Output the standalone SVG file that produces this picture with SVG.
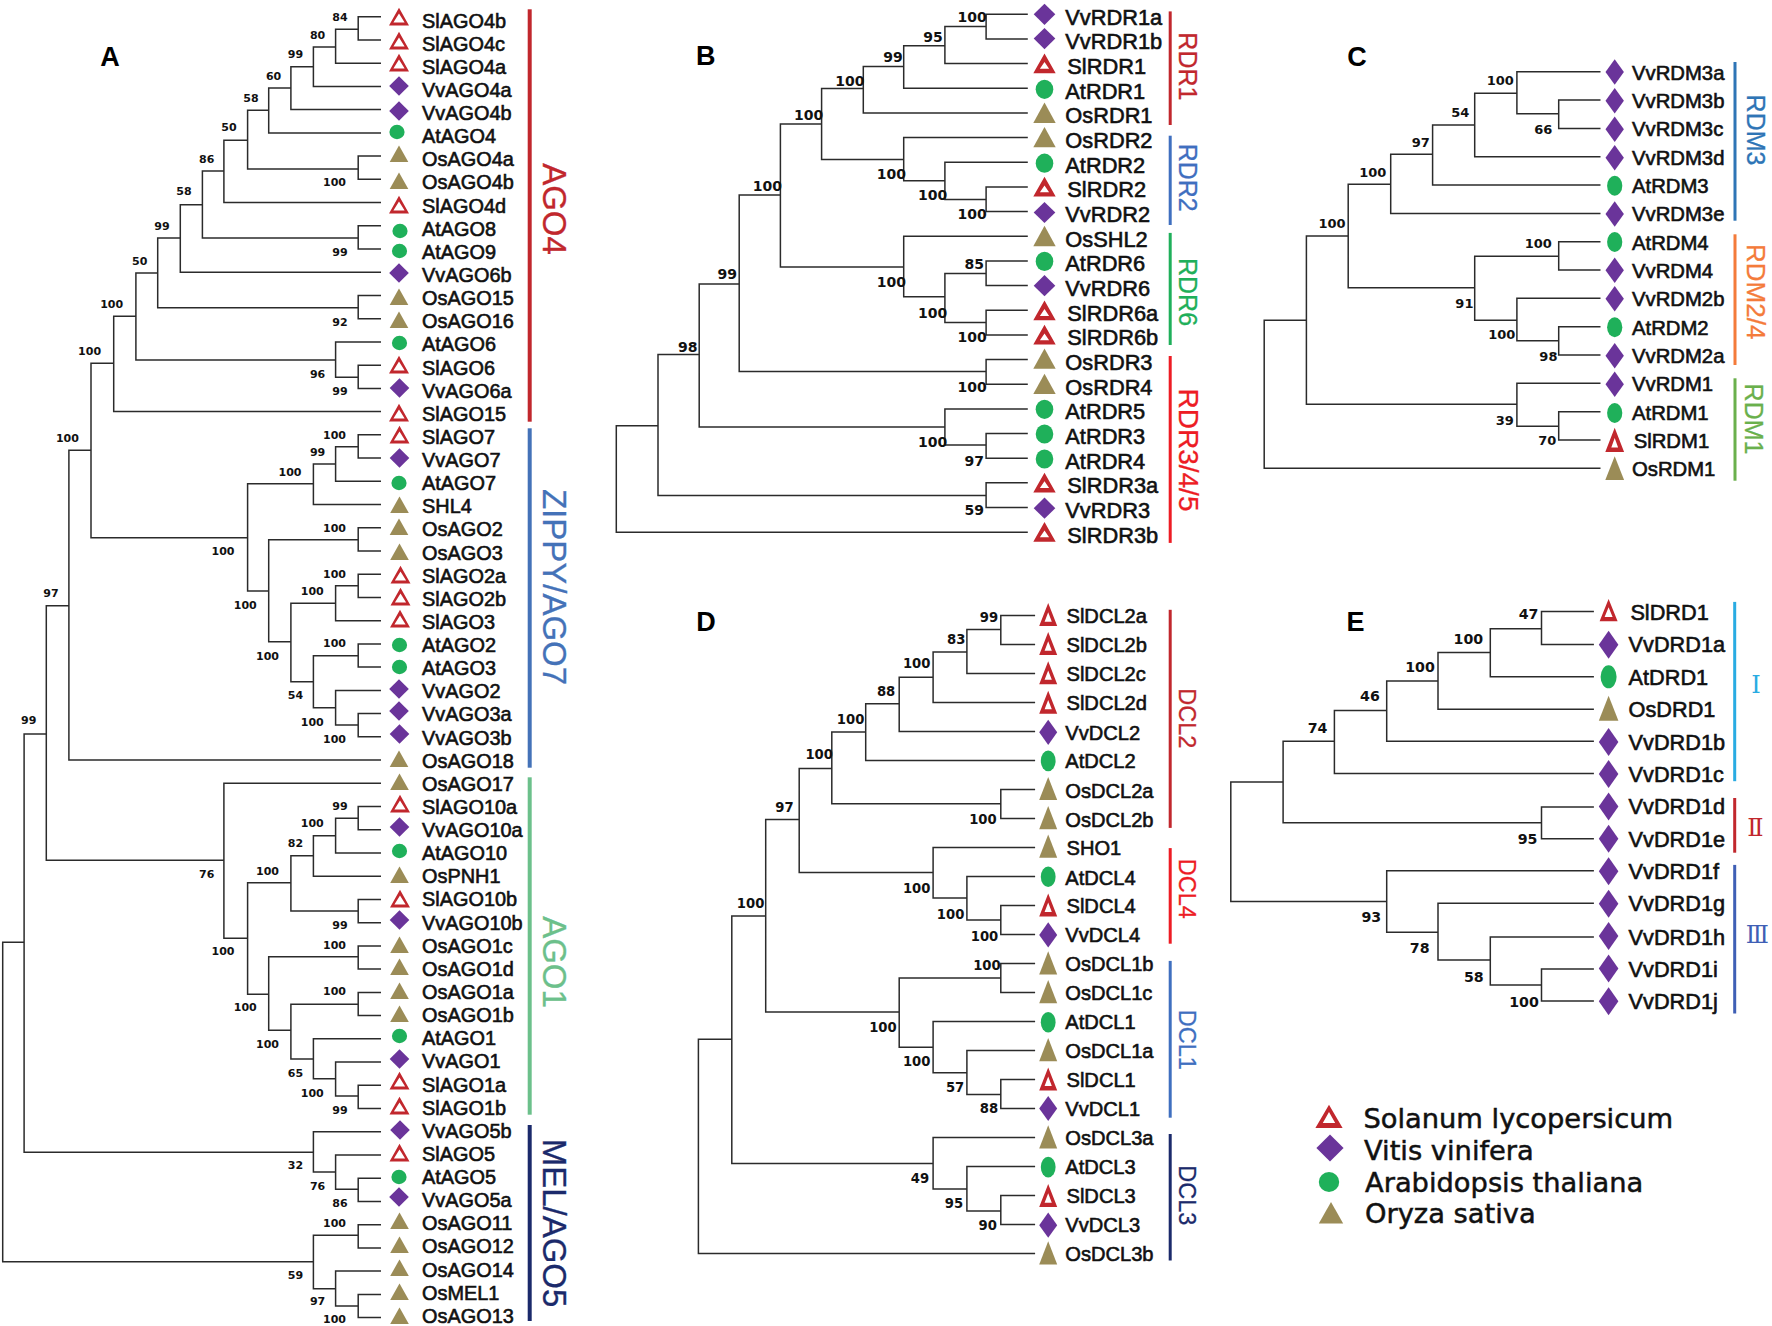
<svg xmlns="http://www.w3.org/2000/svg" width="1772" height="1326" viewBox="0 0 1772 1326">
<style>
text{font-family:"Liberation Sans",Arial,sans-serif;fill:#111}
.ga,.gb,.gc,.gd,.ge{stroke:#111;stroke-width:.6}
.ga{font-size:19.9px}.gb{font-size:21.8px}.gc{font-size:20.3px}.gd{font-size:20.1px}.ge{font-size:21.7px}
.bs text{font-family:"DejaVu Sans",sans-serif;font-weight:700;text-anchor:middle}
.ba text{font-size:11px}.bb text{font-size:14px}.bc text{font-size:13px}.bd text{font-size:13.2px}.be text{font-size:14.2px}
.pl{font-size:27px;font-weight:700;text-anchor:middle;fill:#000}
.cl{text-anchor:middle;stroke-width:.3}
.rn{font-family:"DejaVu Serif",serif;font-size:24px;text-anchor:middle}
.leg{font-family:"DejaVu Sans",sans-serif;font-size:27.3px;stroke:#111;stroke-width:.5}
.tree{fill:none;stroke:#2b2b2b;stroke-width:1.5}
.s{fill:#C1272D;fill-rule:evenodd}.v{fill:#6A349A}.a{fill:#1FB05A}.o{fill:#9B8C57}
</style>
<defs>
<path id="sA" class="s" d="M0-9.2L10 8.5H-10ZM0-3.4L-5.6 5.6H5.6Z"/>
<path id="vA" class="v" d="M0-9.8L9.8 0 0 9.8-9.8 0Z"/>
<ellipse id="aA" class="a" rx="7.6" ry="7.2"/>
<path id="oA" class="o" d="M0-8.6L9.3 8H-9.3Z"/>
<path id="sB" class="s" d="M0-10.2L11.2 9.6H-11.2ZM0-1.6L-4.6 5.2H4.6Z"/>
<path id="vB" class="v" d="M0-10.6L10.8 0 0 10.6-10.8 0Z"/>
<ellipse id="aB" class="a" rx="8.8" ry="9.6"/>
<path id="oB" class="o" d="M0-10.6L11.2 9.8H-11.2Z"/>
<path id="sC" class="s" d="M0-12.2L9.4 12H-9.4ZM0-2L-3.4 7.4H3.4Z"/>
<path id="vC" class="v" d="M0-12.8L9.2 0 0 12.8-9.2 0Z"/>
<ellipse id="aC" class="a" rx="7.6" ry="10"/>
<path id="oC" class="o" d="M0-12L9.4 11.6H-9.4Z"/>
<path id="sD" class="s" d="M0-11.6L9 11.4H-9ZM0-2.4L-3.6 7H3.6Z"/>
<path id="vD" class="v" d="M0-12.6L9 0 0 12.6-9 0Z"/>
<ellipse id="aD" class="a" rx="7.4" ry="10.3"/>
<path id="oD" class="o" d="M0-11.8L9 11.4H-9Z"/>
<path id="sE" class="s" d="M0-11.2L9 11H-9ZM0-3L-4 6.6H4Z"/>
<path id="vE" class="v" d="M0-14L9.8 0 0 14-9.8 0Z"/>
<ellipse id="aE" class="a" rx="8" ry="11.5"/>
<path id="oE" class="o" d="M0-12.6L9.8 12.4H-9.8Z"/>
</defs>
<rect width="1772" height="1326" fill="#fff"/>

<g id="connectors">
<path id="tree-A" class="tree" d="M381 16.7H358.2V39.9H381M358.2 29.3H335.6V63.2H381M335.6 47H313.4V86.4H381M313.4 66.7H290.9V109.6H381M290.9 88H268.7V132.9H381M268.7 110.3H247.6V169H358.2M381 156.1H358.2V179.3H381M247.6 140.3H223.9V202.5H381M223.9 171H202.4V238H358.2M381 225.8H358.2V249H381M202.4 204.7H180.3V272.2H381M180.3 238H157.7V307.7H358.2M381 295.5H358.2V318.7H381M157.7 273H135.9V360H335.6M381 341.9H335.6V377.3H358.2M381 365.2H358.2V388.4H381M135.9 316.3H113.7V411.6H381M113.7 363.3H91V537.7H247.6M91 450.3H68.9V760.1H381M68.9 605.7H46.3V860.3H223.9M46.3 734H24.1V1152.3H313.4M24.1 942.3H2.7V1261.7H313.4M313.4 483.7H247.6V591H268.7M335.6 464H313.4V504.5H381M358.2 446.7H335.6V481.3H381M381 434.8H358.2V458.1H381M358.2 539.7H268.7V641.7H290.9M381 527.8H358.2V551H381M335.6 603.3H290.9V681.7H313.4M358.2 585.7H335.6V620.7H381M381 574.2H358.2V597.5H381M358.2 655.7H313.4V707.7H335.6M381 643.9H358.2V667.1H381M381 690.4H335.6V725H358.2M381 713.6H358.2V736.8H381M381 783.3H223.9V938.3H247.6M290.9 882.7H247.6V994.3H268.7M313.4 855.7H290.9V911H358.2M335.6 835.7H313.4V876.2H381M358.2 818.3H335.6V853H381M381 806.5H358.2V829.8H381M381 899.4H358.2V922.7H381M358.2 956.7H268.7V1030.3H290.9M381 945.9H358.2V969.1H381M358.2 1004.3H290.9V1059H313.4M381 992.4H358.2V1015.6H381M381 1038.8H313.4V1078.7H335.6M381 1062.1H335.6V1096H358.2M381 1085.3H358.2V1108.5H381M381 1131.7H313.4V1172H335.6M381 1155H335.6V1189.3H358.2M381 1178.2H358.2V1201.4H381M358.2 1235.3H313.4V1288.7H335.6M381 1224.7H358.2V1247.9H381M381 1271.1H335.6V1306H358.2M381 1294.4H358.2V1317.6H381"/>
<path id="tree-B" class="tree" d="M1027.8 14.3H986.1V39H1027.8M986.1 26.4H944.9V63.6H1027.8M944.9 45.7H903.7V88.3H1027.8M903.7 66.4H863.3V112.9H1027.8M863.3 88.6H821.6V159.6H903.7M821.6 123.9H780.4V267.1H903.7M780.4 195H739.2V371.4H986.1M739.2 283.9H699.2V427.1H944.9M699.2 354.6H658V495.4H986.1M658 425.7H616.3V532.2H1027.8M1027.8 137.6H903.7V180.7H944.9M1027.8 162.3H944.9V199.6H986.1M1027.8 186.9H986.1V211.6H1027.8M1027.8 236.2H903.7V296.8H944.9M986.1 273.6H944.9V322.5H986.1M1027.8 260.9H986.1V285.6H1027.8M1027.8 310.2H986.1V334.9H1027.8M1027.8 359.5H986.1V384.2H1027.8M1027.8 408.9H944.9V445H986.1M1027.8 433.5H986.1V458.2H1027.8M1027.8 482.8H986.1V507.5H1027.8"/>
<path id="tree-C" class="tree" d="M1600.5 71.7H1516.9V113.7H1558.7M1600.5 100H1558.7V128.4H1600.5M1516.9 93.3H1474.7V156.7H1600.5M1474.7 125H1432.6V185H1600.5M1432.6 154.3H1390.7V213.4H1600.5M1390.7 184.3H1348.2V287.7H1474.7M1348.2 236H1306.4V404.3H1516.9M1306.4 320.3H1264.2V468.3H1600.5M1558.7 256.3H1474.7V320.3H1516.9M1600.5 241.7H1558.7V270H1600.5M1600.5 298.3H1516.9V340.7H1558.7M1600.5 326.7H1558.7V355H1600.5M1600.5 383.3H1516.9V426.3H1558.7M1600.5 411.7H1558.7V440H1600.5"/>
<path id="tree-D" class="tree" d="M1035.1 615.6H1000.8V644.6H1035.1M1000.8 629.6H966.9V673.6H1035.1M966.9 652.1H933.1V702.6H1035.1M933.1 677.2H899.2V731.6H1035.1M899.2 703.7H865.7V760.6H1035.1M865.7 731.9H831.8V803.7H1000.8M1035.1 789.6H1000.8V818.6H1035.1M831.8 768.4H799.2V872.4H933.1M799.2 819.5H765.7V1012H899.2M765.7 916H731.8V1163.6H933.1M731.8 1039.3H698.4V1253.6H1035.1M1035.1 847.6H933.1V897.9H966.9M1035.1 876.6H966.9V920H1000.8M1035.1 905.6H1000.8V934.6H1035.1M1000.8 978.1H899.2V1047.3H933.1M1035.1 963.6H1000.8V992.6H1035.1M1035.1 1021.6H933.1V1072.8H966.9M1035.1 1050.6H966.9V1094.4H1000.8M1035.1 1079.6H1000.8V1108.6H1035.1M1035.1 1137.6H933.1V1189.1H966.9M1035.1 1166.6H966.9V1211.1H1000.8M1035.1 1195.6H1000.8V1224.6H1035.1"/>
<path id="tree-E" class="tree" d="M1593.9 611.6H1541.5V644.4H1593.9M1541.5 628.8H1490.3V676.8H1593.9M1490.3 652.4H1438V709.2H1593.9M1438 681H1386.7V741.2H1593.9M1386.7 710.5H1334.4V773.6H1593.9M1334.4 741.2H1283.1V822.8H1541.5M1593.9 806.9H1541.5V838.8H1593.9M1283.1 782H1230.8V901.5H1386.7M1593.9 870.8H1386.7V932.3H1438M1593.9 903.2H1438V960.1H1490.3M1593.9 936.9H1490.3V984.9H1541.5M1593.9 968.9H1541.5V1000.9H1593.9"/>
</g>

<g id="panel-letters">
<text class="pl" x="110" y="66">A</text>
<text class="pl" x="705.7" y="65.4">B</text>
<text class="pl" x="1356.9" y="66">C</text>
<text class="pl" x="706" y="630.5">D</text>
<text class="pl" x="1355.5" y="630.5">E</text>
</g>

<g id="panel-A-nodes">
<g id="SlAGO4b"><use href="#sA" x="399" y="17"/><text class="ga" x="422" y="27.5">SlAGO4b</text></g>
<g id="SlAGO4c"><use href="#sA" x="399" y="41"/><text class="ga" x="422" y="50.6">SlAGO4c</text></g>
<g id="SlAGO4a"><use href="#sA" x="399" y="63"/><text class="ga" x="422" y="73.8">SlAGO4a</text></g>
<g id="VvAGO4a"><use href="#vA" x="399" y="86"/><text class="ga" x="422" y="96.9">VvAGO4a</text></g>
<g id="VvAGO4b"><use href="#vA" x="399" y="111"/><text class="ga" x="422" y="120">VvAGO4b</text></g>
<g id="AtAGO4"><use href="#aA" x="397" y="132"/><text class="ga" x="422" y="143.2">AtAGO4</text></g>
<g id="OsAGO4a"><use href="#oA" x="399" y="154"/><text class="ga" x="422" y="166.3">OsAGO4a</text></g>
<g id="OsAGO4b"><use href="#oA" x="399" y="181"/><text class="ga" x="422" y="189.4">OsAGO4b</text></g>
<g id="SlAGO4d"><use href="#sA" x="399" y="205"/><text class="ga" x="422" y="212.5">SlAGO4d</text></g>
<g id="AtAGO8"><use href="#aA" x="400" y="231"/><text class="ga" x="422" y="235.7">AtAGO8</text></g>
<g id="AtAGO9"><use href="#aA" x="399.5" y="251"/><text class="ga" x="422" y="258.8">AtAGO9</text></g>
<g id="VvAGO6b"><use href="#vA" x="399" y="273"/><text class="ga" x="422" y="281.9">VvAGO6b</text></g>
<g id="OsAGO15"><use href="#oA" x="399" y="297"/><text class="ga" x="422" y="305.1">OsAGO15</text></g>
<g id="OsAGO16"><use href="#oA" x="399" y="320"/><text class="ga" x="422" y="328.2">OsAGO16</text></g>
<g id="AtAGO6"><use href="#aA" x="399.5" y="343"/><text class="ga" x="422" y="351.3">AtAGO6</text></g>
<g id="SlAGO6"><use href="#sA" x="399" y="365"/><text class="ga" x="422" y="374.5">SlAGO6</text></g>
<g id="VvAGO6a"><use href="#vA" x="399.5" y="388"/><text class="ga" x="422" y="397.6">VvAGO6a</text></g>
<g id="SlAGO15"><use href="#sA" x="399" y="413"/><text class="ga" x="422" y="420.7">SlAGO15</text></g>
<g id="SlAGO7"><use href="#sA" x="399.5" y="435"/><text class="ga" x="422" y="443.8">SlAGO7</text></g>
<g id="VvAGO7"><use href="#vA" x="399.5" y="458"/><text class="ga" x="422" y="467">VvAGO7</text></g>
<g id="AtAGO7"><use href="#aA" x="399" y="483"/><text class="ga" x="422" y="490.1">AtAGO7</text></g>
<g id="SHL4"><use href="#oA" x="399.5" y="505"/><text class="ga" x="422" y="513.2">SHL4</text></g>
<g id="OsAGO2"><use href="#oA" x="399" y="527"/><text class="ga" x="422" y="536.4">OsAGO2</text></g>
<g id="OsAGO3"><use href="#oA" x="399.5" y="552"/><text class="ga" x="422" y="559.5">OsAGO3</text></g>
<g id="SlAGO2a"><use href="#sA" x="400.5" y="575"/><text class="ga" x="422" y="582.6">SlAGO2a</text></g>
<g id="SlAGO2b"><use href="#sA" x="400.5" y="597"/><text class="ga" x="422" y="605.8">SlAGO2b</text></g>
<g id="SlAGO3"><use href="#sA" x="400" y="619"/><text class="ga" x="422" y="628.9">SlAGO3</text></g>
<g id="AtAGO2"><use href="#aA" x="399.5" y="645"/><text class="ga" x="422" y="652">AtAGO2</text></g>
<g id="AtAGO3"><use href="#aA" x="399.5" y="667"/><text class="ga" x="422" y="675.1">AtAGO3</text></g>
<g id="VvAGO2"><use href="#vA" x="399" y="689"/><text class="ga" x="422" y="698.3">VvAGO2</text></g>
<g id="VvAGO3a"><use href="#vA" x="399" y="711"/><text class="ga" x="422" y="721.4">VvAGO3a</text></g>
<g id="VvAGO3b"><use href="#vA" x="399.5" y="734"/><text class="ga" x="422" y="744.5">VvAGO3b</text></g>
<g id="OsAGO18"><use href="#oA" x="399" y="759"/><text class="ga" x="422" y="767.7">OsAGO18</text></g>
<g id="OsAGO17"><use href="#oA" x="399.5" y="782"/><text class="ga" x="422" y="790.8">OsAGO17</text></g>
<g id="SlAGO10a"><use href="#sA" x="400" y="804"/><text class="ga" x="422" y="813.9">SlAGO10a</text></g>
<g id="VvAGO10a"><use href="#vA" x="399.5" y="827"/><text class="ga" x="422" y="837.1">VvAGO10a</text></g>
<g id="AtAGO10"><use href="#aA" x="399.5" y="851"/><text class="ga" x="422" y="860.2">AtAGO10</text></g>
<g id="OsPNH1"><use href="#oA" x="399.5" y="875"/><text class="ga" x="422" y="883.3">OsPNH1</text></g>
<g id="SlAGO10b"><use href="#sA" x="400" y="899"/><text class="ga" x="422" y="906.4">SlAGO10b</text></g>
<g id="VvAGO10b"><use href="#vA" x="399.5" y="920"/><text class="ga" x="422" y="929.6">VvAGO10b</text></g>
<g id="OsAGO1c"><use href="#oA" x="399.5" y="945"/><text class="ga" x="422" y="952.7">OsAGO1c</text></g>
<g id="OsAGO1d"><use href="#oA" x="399.5" y="967"/><text class="ga" x="422" y="975.8">OsAGO1d</text></g>
<g id="OsAGO1a"><use href="#oA" x="399.5" y="991"/><text class="ga" x="422" y="999">OsAGO1a</text></g>
<g id="OsAGO1b"><use href="#oA" x="399.5" y="1014"/><text class="ga" x="422" y="1022.1">OsAGO1b</text></g>
<g id="AtAGO1"><use href="#aA" x="399.5" y="1036"/><text class="ga" x="422" y="1045.2">AtAGO1</text></g>
<g id="VvAGO1"><use href="#vA" x="399.5" y="1059"/><text class="ga" x="422" y="1068.4">VvAGO1</text></g>
<g id="SlAGO1a"><use href="#sA" x="399.5" y="1081"/><text class="ga" x="422" y="1091.5">SlAGO1a</text></g>
<g id="SlAGO1b"><use href="#sA" x="399.5" y="1106"/><text class="ga" x="422" y="1114.6">SlAGO1b</text></g>
<g id="VvAGO5b"><use href="#vA" x="400" y="1130"/><text class="ga" x="422" y="1137.7">VvAGO5b</text></g>
<g id="SlAGO5"><use href="#sA" x="399.5" y="1153"/><text class="ga" x="422" y="1160.9">SlAGO5</text></g>
<g id="AtAGO5"><use href="#aA" x="399" y="1177"/><text class="ga" x="422" y="1184">AtAGO5</text></g>
<g id="VvAGO5a"><use href="#vA" x="399" y="1197"/><text class="ga" x="422" y="1207.1">VvAGO5a</text></g>
<g id="OsAGO11"><use href="#oA" x="399.5" y="1221"/><text class="ga" x="422" y="1230.3">OsAGO11</text></g>
<g id="OsAGO12"><use href="#oA" x="399.5" y="1245"/><text class="ga" x="422" y="1253.4">OsAGO12</text></g>
<g id="OsAGO14"><use href="#oA" x="399.5" y="1268"/><text class="ga" x="422" y="1276.5">OsAGO14</text></g>
<g id="OsMEL1"><use href="#oA" x="399.5" y="1292"/><text class="ga" x="422" y="1299.7">OsMEL1</text></g>
<g id="OsAGO13"><use href="#oA" x="399.5" y="1316"/><text class="ga" x="422" y="1322.8">OsAGO13</text></g>
</g>

<g id="panel-A-support" class="bs ba">
<text x="340" y="21.3">84</text><text x="317.6" y="38.7">80</text><text x="295.4" y="58.3">99</text><text x="273.6" y="79.7">60</text><text x="251" y="102">58</text><text x="228.9" y="130.7">50</text><text x="206.7" y="163">86</text><text x="184" y="195">58</text><text x="161.9" y="230">99</text><text x="139.7" y="264.7">50</text><text x="111.7" y="308">100</text><text x="89.6" y="355.3">100</text><text x="67.4" y="442.3">100</text><text x="334.5" y="186.3">100</text><text x="340" y="256">99</text><text x="340" y="325.7">92</text><text x="317.6" y="377.7">96</text><text x="340" y="395.3">99</text><text x="334.5" y="438.7">100</text><text x="317.6" y="455.7">99</text><text x="290" y="476">100</text><text x="223" y="555.3">100</text><text x="334.5" y="531.7">100</text><text x="334.5" y="577.7">100</text><text x="312.3" y="595.3">100</text><text x="245.3" y="608.7">100</text><text x="334.5" y="647.3">100</text><text x="267.5" y="659.7">100</text><text x="295.4" y="699.3">54</text><text x="312.3" y="725.7">100</text><text x="334.5" y="743">100</text><text x="50.9" y="597.3">97</text><text x="28.7" y="724">99</text><text x="340" y="809.7">99</text><text x="312.3" y="827.3">100</text><text x="295.4" y="847.3">82</text><text x="267.5" y="874.7">100</text><text x="206.7" y="878">76</text><text x="340" y="929">99</text><text x="223" y="955.3">100</text><text x="334.5" y="949">100</text><text x="334.5" y="995">100</text><text x="245.3" y="1011">100</text><text x="267.5" y="1048.3">100</text><text x="295.4" y="1076.7">65</text><text x="312.3" y="1097">100</text><text x="340" y="1114">99</text><text x="295.4" y="1168.7">32</text><text x="317.6" y="1190">76</text><text x="340" y="1207.3">86</text><text x="334.5" y="1227.3">100</text><text x="295.4" y="1279.3">59</text><text x="317.6" y="1305.3">97</text><text x="334.5" y="1323">100</text>
</g>

<g id="clade-AGO4"><rect x="527.7" y="9.3" width="4" height="412.4" fill="#C1272D"/><text class="cl" font-size="33" style="fill:#C1272D;stroke:#C1272D" transform="translate(542.7 209) rotate(90)">AGO4</text></g>
<g id="clade-ZIPPY"><rect x="527.7" y="428.3" width="4" height="339.4" fill="#4472B8"/><text class="cl" font-size="33" style="fill:#4472B8;stroke:#4472B8" transform="translate(542.7 587) rotate(90)">ZIPPY/AGO7</text></g>
<g id="clade-AGO1"><rect x="527.7" y="777.3" width="4" height="337.4" fill="#6CC08B"/><text class="cl" font-size="33" style="fill:#6CC08B;stroke:#6CC08B" transform="translate(542.7 962) rotate(90)">AGO1</text></g>
<g id="clade-MEL"><rect x="527.7" y="1125" width="4" height="196" fill="#1B2A6B"/><text class="cl" font-size="33" style="fill:#1B2A6B;stroke:#1B2A6B" transform="translate(542.7 1223) rotate(90)">MEL/AGO5</text></g>

<g id="panel-B-nodes">
<g id="VvRDR1a"><use href="#vB" x="1044.5" y="14.3"/><text class="gb" x="1065.3" y="24.7">VvRDR1a</text></g>
<g id="VvRDR1b"><use href="#vB" x="1044.5" y="38.6"/><text class="gb" x="1065.3" y="49.4">VvRDR1b</text></g>
<g id="SlRDR1"><use href="#sB" x="1044.5" y="63.6"/><text class="gb" x="1067.3" y="74">SlRDR1</text></g>
<g id="AtRDR1"><use href="#aB" x="1044.5" y="89.3"/><text class="gb" x="1065.3" y="98.7">AtRDR1</text></g>
<g id="OsRDR1"><use href="#oB" x="1044.5" y="113.2"/><text class="gb" x="1065.3" y="123.4">OsRDR1</text></g>
<g id="OsRDR2"><use href="#oB" x="1044.5" y="137.5"/><text class="gb" x="1065.3" y="148">OsRDR2</text></g>
<g id="AtRDR2"><use href="#aB" x="1044.5" y="163.2"/><text class="gb" x="1065.3" y="172.7">AtRDR2</text></g>
<g id="SlRDR2"><use href="#sB" x="1044.5" y="187"/><text class="gb" x="1067.3" y="197.3">SlRDR2</text></g>
<g id="VvRDR2"><use href="#vB" x="1044.5" y="212.5"/><text class="gb" x="1065.3" y="222">VvRDR2</text></g>
<g id="OsSHL2"><use href="#oB" x="1044.5" y="236.4"/><text class="gb" x="1065.3" y="246.6">OsSHL2</text></g>
<g id="AtRDR6"><use href="#aB" x="1044.5" y="261.4"/><text class="gb" x="1065.3" y="271.3">AtRDR6</text></g>
<g id="VvRDR6"><use href="#vB" x="1044.5" y="285.7"/><text class="gb" x="1065.3" y="296">VvRDR6</text></g>
<g id="SlRDR6a"><use href="#sB" x="1044.5" y="310.7"/><text class="gb" x="1067.3" y="320.6">SlRDR6a</text></g>
<g id="SlRDR6b"><use href="#sB" x="1044.5" y="335"/><text class="gb" x="1067.3" y="345.3">SlRDR6b</text></g>
<g id="OsRDR3"><use href="#oB" x="1044.5" y="359"/><text class="gb" x="1065.3" y="370">OsRDR3</text></g>
<g id="OsRDR4"><use href="#oB" x="1044.5" y="384.3"/><text class="gb" x="1065.3" y="394.6">OsRDR4</text></g>
<g id="AtRDR5"><use href="#aB" x="1044.5" y="409.3"/><text class="gb" x="1065.3" y="419.3">AtRDR5</text></g>
<g id="AtRDR3"><use href="#aB" x="1044.5" y="434"/><text class="gb" x="1065.3" y="444">AtRDR3</text></g>
<g id="AtRDR4"><use href="#aB" x="1044.5" y="459"/><text class="gb" x="1065.3" y="468.7">AtRDR4</text></g>
<g id="SlRDR3a"><use href="#sB" x="1044.5" y="482.9"/><text class="gb" x="1067.3" y="493.3">SlRDR3a</text></g>
<g id="VvRDR3"><use href="#vB" x="1044.5" y="508.2"/><text class="gb" x="1065.3" y="518">VvRDR3</text></g>
<g id="SlRDR3b"><use href="#sB" x="1044.5" y="532.1"/><text class="gb" x="1067.3" y="542.7">SlRDR3b</text></g>
</g>

<g id="panel-B-support" class="bs bb">
<text x="972.2" y="21.9">100</text><text x="933" y="41.5">95</text><text x="893" y="62.2">99</text><text x="849.8" y="86.2">100</text><text x="808.6" y="120.1">100</text><text x="767.3" y="190.8">100</text><text x="727.3" y="279.4">99</text><text x="687.8" y="352.2">98</text><text x="891.4" y="179">100</text><text x="932.7" y="199.7">100</text><text x="972.2" y="218.7">100</text><text x="974.3" y="269.4">85</text><text x="891.4" y="287.2">100</text><text x="932.7" y="318.3">100</text><text x="972.2" y="341.5">100</text><text x="972.2" y="391.9">100</text><text x="932.7" y="446.9">100</text><text x="974.3" y="465.8">97</text><text x="974.3" y="515.1">59</text>
</g>

<g id="clade-RDR1"><rect x="1168.7" y="11.4" width="3" height="113.6" fill="#C1272D"/><text class="cl" font-size="25" style="fill:#C1272D;stroke:#C1272D" transform="translate(1178.8 66.4) rotate(90)">RDR1</text></g>
<g id="clade-RDR2"><rect x="1168.7" y="135.7" width="3" height="89.3" fill="#3F6FBF"/><text class="cl" font-size="25" style="fill:#3F6FBF;stroke:#3F6FBF" transform="translate(1178.8 177.7) rotate(90)">RDR2</text></g>
<g id="clade-RDR6"><rect x="1168.7" y="232.9" width="3" height="112.1" fill="#1FAF5A"/><text class="cl" font-size="25" style="fill:#1FAF5A;stroke:#1FAF5A" transform="translate(1178.8 292) rotate(90)">RDR6</text></g>
<g id="clade-RDR345"><rect x="1168.7" y="356" width="3" height="186.9" fill="#ED1C24"/><text class="cl" font-size="28" style="fill:#ED1C24;stroke:#ED1C24" transform="translate(1178.8 450) rotate(90)">RDR3/4/5</text></g>

<g id="panel-C-nodes">
<g id="VvRDM3a"><use href="#vC" x="1614.7" y="72"/><text class="gc" x="1632" y="79.6">VvRDM3a</text></g>
<g id="VvRDM3b"><use href="#vC" x="1614.7" y="100.7"/><text class="gc" x="1632" y="108">VvRDM3b</text></g>
<g id="VvRDM3c"><use href="#vC" x="1614.7" y="129.3"/><text class="gc" x="1632" y="136.4">VvRDM3c</text></g>
<g id="VvRDM3d"><use href="#vC" x="1614.7" y="157.7"/><text class="gc" x="1632" y="164.7">VvRDM3d</text></g>
<g id="AtRDM3"><use href="#aC" x="1614.7" y="185.7"/><text class="gc" x="1632" y="193">AtRDM3</text></g>
<g id="VvRDM3e"><use href="#vC" x="1614.7" y="214"/><text class="gc" x="1632" y="221.4">VvRDM3e</text></g>
<g id="AtRDM4"><use href="#aC" x="1614.7" y="242"/><text class="gc" x="1632" y="249.7">AtRDM4</text></g>
<g id="VvRDM4"><use href="#vC" x="1614.7" y="270.3"/><text class="gc" x="1632" y="278">VvRDM4</text></g>
<g id="VvRDM2b"><use href="#vC" x="1614.7" y="298.7"/><text class="gc" x="1632" y="306.3">VvRDM2b</text></g>
<g id="AtRDM2"><use href="#aC" x="1614.7" y="327.3"/><text class="gc" x="1632" y="334.7">AtRDM2</text></g>
<g id="VvRDM2a"><use href="#vC" x="1614.7" y="355.7"/><text class="gc" x="1632" y="363">VvRDM2a</text></g>
<g id="VvRDM1"><use href="#vC" x="1614.7" y="384.3"/><text class="gc" x="1632" y="391.3">VvRDM1</text></g>
<g id="AtRDM1"><use href="#aC" x="1614.7" y="413"/><text class="gc" x="1632" y="419.7">AtRDM1</text></g>
<g id="SlRDM1"><use href="#sC" x="1614.7" y="440"/><text class="gc" x="1633.7" y="448">SlRDM1</text></g>
<g id="OsRDM1"><use href="#oC" x="1614.7" y="468.3"/><text class="gc" x="1632" y="476.3">OsRDM1</text></g>
</g>

<g id="panel-C-support" class="bs bc">
<text x="1500.3" y="85.4">100</text><text x="1543.2" y="134">66</text><text x="1460.2" y="116.7">54</text><text x="1420.8" y="146.7">97</text><text x="1372.8" y="176.7">100</text><text x="1332" y="228">100</text><text x="1538.3" y="248.4">100</text><text x="1464.4" y="308">91</text><text x="1501.7" y="339.4">100</text><text x="1548.4" y="361.4">98</text><text x="1504.8" y="425">39</text><text x="1547.3" y="445.4">70</text>
</g>

<g id="clade-RDM3"><rect x="1733.5" y="62" width="3" height="158.7" fill="#2E75B6"/><text class="cl" font-size="25" style="fill:#2E75B6;stroke:#2E75B6" transform="translate(1747 130) rotate(90)">RDM3</text></g>
<g id="clade-RDM24"><rect x="1733.5" y="234.3" width="3" height="130.7" fill="#F47B3A"/><text class="cl" font-size="26" style="fill:#F47B3A;stroke:#F47B3A" transform="translate(1747 291.7) rotate(90)">RDM2/4</text></g>
<g id="clade-RDM1"><rect x="1733.5" y="378.3" width="3" height="102.4" fill="#6AB04C"/><text class="cl" font-size="25" style="fill:#6AB04C;stroke:#6AB04C" transform="translate(1745 419) rotate(90)">RDM1</text></g>

<g id="panel-D-nodes">
<g id="SlDCL2a"><use href="#sD" x="1048.2" y="614.7"/><text class="gd" x="1066.5" y="623.3">SlDCL2a</text></g>
<g id="SlDCL2b"><use href="#sD" x="1048.2" y="643.7"/><text class="gd" x="1066.5" y="652.3">SlDCL2b</text></g>
<g id="SlDCL2c"><use href="#sD" x="1048.2" y="672.8"/><text class="gd" x="1066.5" y="681.4">SlDCL2c</text></g>
<g id="SlDCL2d"><use href="#sD" x="1048.2" y="702.3"/><text class="gd" x="1066.5" y="710.4">SlDCL2d</text></g>
<g id="VvDCL2"><use href="#vD" x="1048.2" y="732.3"/><text class="gd" x="1065.3" y="739.6">VvDCL2</text></g>
<g id="AtDCL2"><use href="#aD" x="1048.2" y="760.9"/><text class="gd" x="1065.3" y="768.4">AtDCL2</text></g>
<g id="OsDCL2a"><use href="#oD" x="1048.2" y="788.7"/><text class="gd" x="1065.3" y="797.6">OsDCL2a</text></g>
<g id="OsDCL2b"><use href="#oD" x="1048.2" y="817.8"/><text class="gd" x="1065.3" y="826.6">OsDCL2b</text></g>
<g id="SHO1"><use href="#oD" x="1048.2" y="846.4"/><text class="gd" x="1066.5" y="855">SHO1</text></g>
<g id="AtDCL4"><use href="#aD" x="1048.2" y="876.8"/><text class="gd" x="1065.3" y="884.6">AtDCL4</text></g>
<g id="SlDCL4"><use href="#sD" x="1048.2" y="905"/><text class="gd" x="1066.5" y="913">SlDCL4</text></g>
<g id="VvDCL4"><use href="#vD" x="1048.2" y="934.9"/><text class="gd" x="1065.3" y="942">VvDCL4</text></g>
<g id="OsDCL1b"><use href="#oD" x="1048.2" y="963.1"/><text class="gd" x="1065.3" y="970.6">OsDCL1b</text></g>
<g id="OsDCL1c"><use href="#oD" x="1048.2" y="991.8"/><text class="gd" x="1065.3" y="999.6">OsDCL1c</text></g>
<g id="AtDCL1"><use href="#aD" x="1048.2" y="1022.2"/><text class="gd" x="1065.3" y="1028.6">AtDCL1</text></g>
<g id="OsDCL1a"><use href="#oD" x="1048.2" y="1049.9"/><text class="gd" x="1065.3" y="1057.6">OsDCL1a</text></g>
<g id="SlDCL1"><use href="#sD" x="1048.2" y="1079"/><text class="gd" x="1066.5" y="1086.6">SlDCL1</text></g>
<g id="VvDCL1"><use href="#vD" x="1048.2" y="1108.5"/><text class="gd" x="1065.3" y="1115.6">VvDCL1</text></g>
<g id="OsDCL3a"><use href="#oD" x="1048.2" y="1137.1"/><text class="gd" x="1065.3" y="1144.6">OsDCL3a</text></g>
<g id="AtDCL3"><use href="#aD" x="1048.2" y="1167.1"/><text class="gd" x="1065.3" y="1173.6">AtDCL3</text></g>
<g id="SlDCL3"><use href="#sD" x="1048.2" y="1195.7"/><text class="gd" x="1066.5" y="1202.6">SlDCL3</text></g>
<g id="VvDCL3"><use href="#vD" x="1048.2" y="1225.2"/><text class="gd" x="1065.3" y="1231.6">VvDCL3</text></g>
<g id="OsDCL3b"><use href="#oD" x="1048.2" y="1253"/><text class="gd" x="1065.3" y="1261">OsDCL3b</text></g>
</g>

<g id="panel-D-support" class="bs bd">
<text x="989" y="622.1">99</text><text x="956.3" y="644.1">83</text><text x="916.7" y="668.4">100</text><text x="886.1" y="695.7">88</text><text x="850.6" y="723.9">100</text><text x="819.2" y="759.1">100</text><text x="784.5" y="811.5">97</text><text x="750.6" y="908">100</text><text x="982.9" y="823.9">100</text><text x="916.7" y="893">100</text><text x="950.6" y="918.6">100</text><text x="984.5" y="940.6">100</text><text x="986.9" y="970.1">100</text><text x="882.9" y="1032.2">100</text><text x="916.7" y="1066.2">100</text><text x="955.1" y="1092.2">57</text><text x="989" y="1113.3">88</text><text x="920" y="1182.5">49</text><text x="953.9" y="1208">95</text><text x="987.8" y="1229.6">90</text>
</g>

<g id="clade-DCL2"><rect x="1168.7" y="609.8" width="3" height="218.1" fill="#C1272D"/><text class="cl" font-size="23.5" style="fill:#C1272D;stroke:#C1272D" transform="translate(1178.8 718.4) rotate(90)">DCL2</text></g>
<g id="clade-DCL4"><rect x="1168.7" y="848.1" width="3" height="95.6" fill="#ED1C24"/><text class="cl" font-size="23.5" style="fill:#ED1C24;stroke:#ED1C24" transform="translate(1178.8 888.9) rotate(90)">DCL4</text></g>
<g id="clade-DCL1"><rect x="1168.7" y="960.9" width="3" height="156.8" fill="#3F6FBF"/><text class="cl" font-size="23.5" style="fill:#3F6FBF;stroke:#3F6FBF" transform="translate(1178.8 1039.8) rotate(90)">DCL1</text></g>
<g id="clade-DCL3"><rect x="1168.7" y="1134" width="3" height="126.5" fill="#1B2A6B"/><text class="cl" font-size="23.5" style="fill:#1B2A6B;stroke:#1B2A6B" transform="translate(1178.8 1195.3) rotate(90)">DCL3</text></g>

<g id="panel-E-nodes">
<g id="SlDRD1"><use href="#sE" x="1608.6" y="610.3"/><text class="ge" x="1630.4" y="619.6">SlDRD1</text></g>
<g id="VvDRD1a"><use href="#vE" x="1608.6" y="644.8"/><text class="ge" x="1628.6" y="652">VvDRD1a</text></g>
<g id="AtDRD1"><use href="#aE" x="1608.6" y="676.8"/><text class="ge" x="1628.6" y="685">AtDRD1</text></g>
<g id="OsDRD1"><use href="#oE" x="1608.6" y="708.4"/><text class="ge" x="1628.6" y="717">OsDRD1</text></g>
<g id="VvDRD1b"><use href="#vE" x="1608.6" y="742"/><text class="ge" x="1628.6" y="749.6">VvDRD1b</text></g>
<g id="VvDRD1c"><use href="#vE" x="1608.6" y="774"/><text class="ge" x="1628.6" y="781.8">VvDRD1c</text></g>
<g id="VvDRD1d"><use href="#vE" x="1608.6" y="806.4"/><text class="ge" x="1628.6" y="814">VvDRD1d</text></g>
<g id="VvDRD1e"><use href="#vE" x="1608.6" y="838.8"/><text class="ge" x="1628.6" y="846.8">VvDRD1e</text></g>
<g id="VvDRD1f"><use href="#vE" x="1608.6" y="871.3"/><text class="ge" x="1628.6" y="878.8">VvDRD1f</text></g>
<g id="VvDRD1g"><use href="#vE" x="1608.6" y="903.7"/><text class="ge" x="1628.6" y="911">VvDRD1g</text></g>
<g id="VvDRD1h"><use href="#vE" x="1608.6" y="936.1"/><text class="ge" x="1628.6" y="944.6">VvDRD1h</text></g>
<g id="VvDRD1i"><use href="#vE" x="1608.6" y="968.5"/><text class="ge" x="1628.6" y="977">VvDRD1i</text></g>
<g id="VvDRD1j"><use href="#vE" x="1608.6" y="1001.3"/><text class="ge" x="1628.6" y="1009">VvDRD1j</text></g>
</g>

<g id="panel-E-support" class="bs be">
<text x="1528.6" y="618.9">47</text><text x="1468.4" y="643.7">100</text><text x="1420" y="671.5">100</text><text x="1369.9" y="700.5">46</text><text x="1317.5" y="732.5">74</text><text x="1527.6" y="843.6">95</text><text x="1371.3" y="921.9">93</text><text x="1419.7" y="953">78</text><text x="1473.8" y="982.1">58</text><text x="1524" y="1006.9">100</text>
</g>

<g id="clade-I"><rect x="1733.2" y="601.9" width="3" height="179.3" fill="#29ABE2"/><text class="rn" style="fill:#29ABE2" x="1755.9" y="692.5">Ⅰ</text></g>
<g id="clade-II"><rect x="1733.2" y="798" width="3" height="54.7" fill="#C1272D"/><text class="rn" style="fill:#C1272D" x="1755.5" y="835.6">Ⅱ</text></g>
<g id="clade-III"><rect x="1733.2" y="864.9" width="3" height="148.6" fill="#3F5FB5"/><text class="rn" style="fill:#3F5FB5" x="1757.3" y="942.5">Ⅲ</text></g>

<g id="legend">
<g id="legend-sl"><path class="s" d="M1329 1104.8L1342.6 1128H1315.4ZM1329 1112L1322.8 1123H1335.2Z"/><text class="leg" x="1363.4" y="1128.4">Solanum lycopersicum</text></g>
<g id="legend-vv"><path class="v" d="M1330 1134.5L1343.6 1148 1330 1161.5 1316.4 1148Z"/><text class="leg" x="1364" y="1160">Vitis vinifera</text></g>
<g id="legend-at"><ellipse class="a" cx="1329" cy="1182" rx="10.2" ry="9.9"/><text class="leg" x="1365" y="1191.5">Arabidopsis thaliana</text></g>
<g id="legend-os"><path class="o" d="M1331 1202L1343.2 1223.4H1318.8Z"/><text class="leg" x="1365" y="1223">Oryza sativa</text></g>
</g>
</svg>
